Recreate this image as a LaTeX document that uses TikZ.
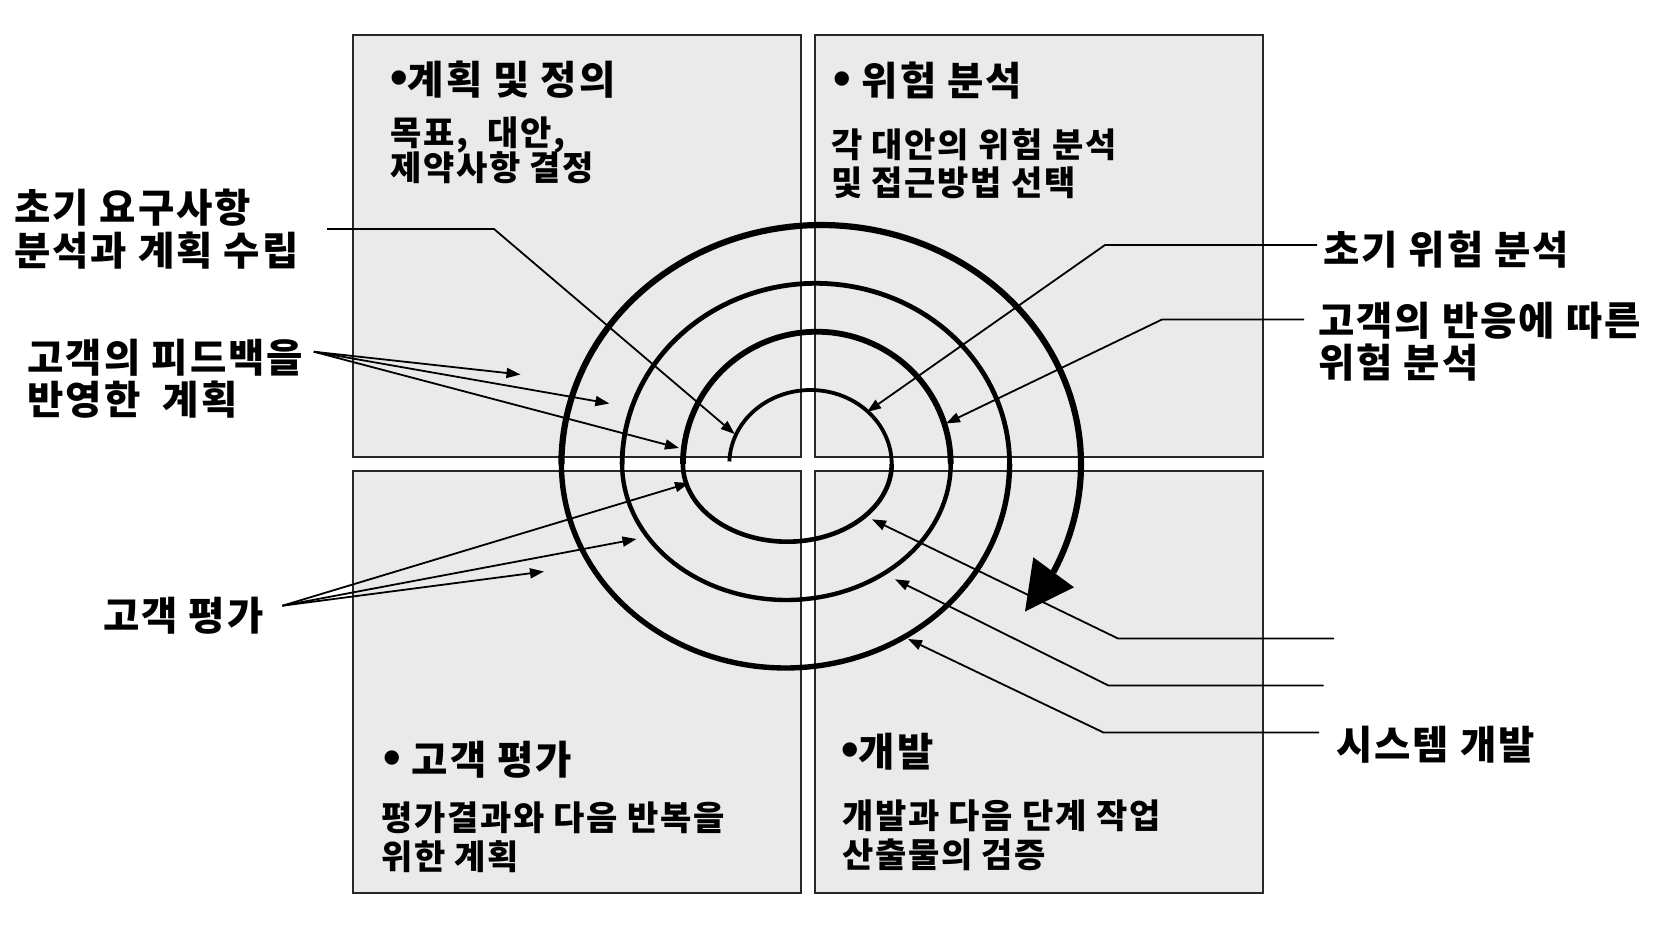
\documentclass[tikz,border=0pt]{standalone}
\usepackage{fontspec}
\setmainfont{Noto Sans CJK KR}[LetterSpace=5.0]
\newfontfamily\bulletfont{Liberation Sans}
\usetikzlibrary{arrows.meta}
\definecolor{quadfill}{RGB}{234,234,234}
\definecolor{quadline}{RGB}{40,40,40}
\newcommand\tbul{{\bulletfont\bfseries\fontsize{50}{50}\selectfont\symbol{"2022}}}
\begin{document}
\begin{tikzpicture}[x=1pt,y=-1pt,
  quad/.style={draw=quadline, line width=1.4pt, fill=quadfill, minimum width=448pt, minimum height=422pt, inner sep=0pt, outer sep=0pt},
  big/.style={anchor=base west, inner sep=0pt, font=\fontsize{39.5}{44}\selectfont\bfseries},
  body/.style={anchor=base west, inner sep=0pt, font=\fontsize{34}{38}\selectfont\bfseries},
  leader/.style={line width=1.8pt, -{Triangle[length=14pt,width=10pt]}},
  spiral/.style={line cap=butt, line join=round}]
\useasboundingbox (0,0) rectangle (1656,924);
\fill[white] (0,0) rectangle (1656,924);

% quadrants
\node[quad] (qTL) at (577,246) {};
\node[quad] (qTR) at (1039,246) {};
\node[quad] (qBL) at (577,682) {};
\node[quad] (qBR) at (1039,682) {};

% spiral
\draw[spiral, line width=3.8pt] plot[variable=\t, domain=182:360, samples=60] ({810.5+81.2*cos(\t)},{464+74*sin(\t)});
\draw[spiral, line width=4.6pt] plot[variable=\t, domain=0:180, samples=60] ({787.3+104.4*cos(\t)},{464+77.7*sin(\t)});
\draw[spiral, line width=5.8pt] plot[variable=\t, domain=180:360, samples=70] ({816.8+133.9*cos(\t)},{464+132.3*sin(\t)});
\draw[spiral, line width=4.4pt] plot[variable=\t, domain=0:180, samples=70] ({786.4+164.3*cos(\t)},{464+136*sin(\t)});
\draw[spiral, line width=4.8pt] plot[variable=\t, domain=180:360, samples=80] ({815.85+193.75*cos(\t)},{464+180.7*sin(\t)});
\draw[spiral, line width=5.4pt] plot[variable=\t, domain=0:180, samples=80] ({785.5+224.1*cos(\t)},{464+204*sin(\t)});
\draw[spiral, line width=6.2pt] plot[variable=\t, domain=180:360, samples=90] ({821.2+259.8*cos(\t)},{464+239*sin(\t)});
\draw[spiral, line width=6.2pt] plot[variable=\t, domain=0:25, samples=20] ({786+295*cos(\t)},{464+256*sin(\t)});
\fill (1033.3,557.3) -- (1074,587.3) -- (1025,611.5) -- cycle;

% labels outside
\node[big] (lbReqA) at (14,222.5) {초기 요구사항};
\node[big] (lbReqB) at (14,265.5) {분석과 계획 수립};
\node[big] (lbFbA) at (27.5,372.5) {고객의 피드백을};
\node[big] (lbFbB) at (27.5,414) {반영한\ \ 계획};
\node[big] (lbEval) at (103,630) {고객 평가};
\node[big] (lbRisk) at (1323,264) {초기 위험 분석};
\node[big] (lbRespA) at (1318,335.5) {고객의 반응에 따른};
\node[big] (lbRespB) at (1318,377.5) {위험 분석};
\node[big] (lbDev) at (1336,759) {시스템 개발};

% quadrant texts
\node[big] (tTL) at (390,94) {\tbul 계획 및 정의};
\node[body] (bTLa) at (390,145) {목표,\ \ 대안,};
\node[body] (bTLb) at (390,180) {제약사항 결정};
\node[big] (tTR) at (833,95) {\tbul\ 위험 분석};
\node[body] (bTRa) at (831,157.5) {각 대안의 위험 분석};
\node[body] (bTRb) at (831,195.5) {및 접근방법 선택};
\node[big] (tBL) at (383,774) {\tbul\ 고객 평가};
\node[body] (bBLa) at (381,830) {평가결과와 다음 반복을};
\node[body] (bBLb) at (381,869) {위한 계획};
\node[big] (tBR) at (841,766) {\tbul 개발};
\node[body] (bBRa) at (842,828) {개발과 다음 단계 작업};
\node[body] (bBRb) at (842,867) {산출물의 검증};

% leader coordinates
\coordinate (rqA) at (327,229);
\coordinate (rqB) at (494,229);
\coordinate (rqT) at (734.7,434);
\coordinate (fbO) at (313.8,351.7);
\coordinate (fbT1) at (520.5,374.5);
\coordinate (fbT2) at (609.4,403.5);
\coordinate (fbT3) at (679,448);
\coordinate (evO) at (282.4,605.7);
\coordinate (evT1) at (689,483);
\coordinate (evT2) at (636.5,539);
\coordinate (evT3) at (544,571.5);
\coordinate (irA) at (1317,245);
\coordinate (irB) at (1105,245);
\coordinate (irT) at (867,412);
\coordinate (crA) at (1304,319.5);
\coordinate (crB) at (1162,319.5);
\coordinate (crT) at (946,423.5);
\coordinate (sdA1) at (1334,638.5);
\coordinate (sdB1) at (1118,638.5);
\coordinate (sdT1) at (872,519.3);
\coordinate (sdA2) at (1323.5,685.5);
\coordinate (sdB2) at (1108.5,685.5);
\coordinate (sdT2) at (895,579.3);
\coordinate (sdA3) at (1319,732.5);
\coordinate (sdB3) at (1103.5,732.5);
\coordinate (sdT3) at (908,639);

% leaders
\draw[leader] (rqA) -- (rqB) -- (rqT);
\draw[leader] (fbO) -- (fbT1);
\draw[leader] (fbO) -- (fbT2);
\draw[leader] (fbO) -- (fbT3);
\draw[leader] (evO) -- (evT1);
\draw[leader] (evO) -- (evT2);
\draw[leader] (evO) -- (evT3);
\draw[leader] (irA) -- (irB) -- (irT);
\draw[leader] (crA) -- (crB) -- (crT);
\draw[leader] (sdA1) -- (sdB1) -- (sdT1);
\draw[leader] (sdA2) -- (sdB2) -- (sdT2);
\draw[leader] (sdA3) -- (sdB3) -- (sdT3);
\end{tikzpicture}
\end{document}
